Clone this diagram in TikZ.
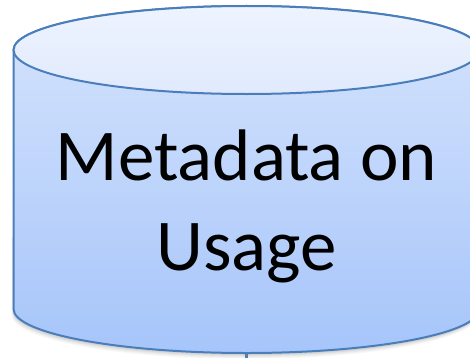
\documentclass[tikz,border=0pt]{standalone}
\usepackage{fontspec}
\setmainfont{Carlito}
\usepackage{tikz}
\usetikzlibrary{positioning,calc}
\definecolor{dbOutline}{HTML}{4A7EBB}
\definecolor{dbTopLight}{HTML}{EEF4FE}
\definecolor{dbTopDark}{HTML}{E0EAFD}
\definecolor{dbBodyLight}{HTML}{D6E4FD}
\definecolor{dbBodyDark}{HTML}{A6C5FA}
\definecolor{dbShadow}{HTML}{7F7F7F}
\tikzset{
    dbBody/.style={draw=dbOutline, line width=2pt, top color=dbBodyLight, bottom color=dbBodyDark},
    dbTop/.style={draw=dbOutline, line width=2pt, top color=dbTopLight, bottom color=dbTopDark},
    dbShadowLayer/.style={fill=dbShadow, opacity=#1, draw=none},
    dbLabel/.style={font=\fontsize{73}{90}\selectfont, align=center, inner sep=0pt, text=black},
    dbLink/.style={dbOutline, line width=2.5pt}
}

\begin{document}
\begin{tikzpicture}[x=1pt, y=1pt]
\useasboundingbox (0,0) rectangle (470,357);
\clip (0,0) rectangle (470,357);
% outgoing link, mostly hidden behind the drum
\coordinate (drumBase) at (246.5,10);
\coordinate (linkEnd) at (246.5,-4);
\draw[dbLink] (drumBase) -- (linkEnd);
% soft shadow below the drum
\foreach \s/\o in {6/0.05,5/0.06,4/0.08,3/0.1,2/0.12}{
    \fill[dbShadowLayer=\o] (13.5-\s*0.3,120) -- (13.5-\s*0.3,48-\s) arc[start angle=180, end angle=360, x radius=233, y radius=44] -- (479.5,120) -- cycle;
}
% drum body and lid
\path[dbBody] (13.5,307) -- (13.5,48) arc[start angle=180, end angle=360, x radius=233, y radius=44] -- (479.5,307) arc[start angle=0, end angle=180, x radius=233, y radius=44] -- cycle;
\path[dbTop] (246.5,307) ellipse[x radius=233, y radius=44];
\node[dbLabel] (usage) at (246.5,151) {Metadata on\\Usage};
\end{tikzpicture}
\end{document}
